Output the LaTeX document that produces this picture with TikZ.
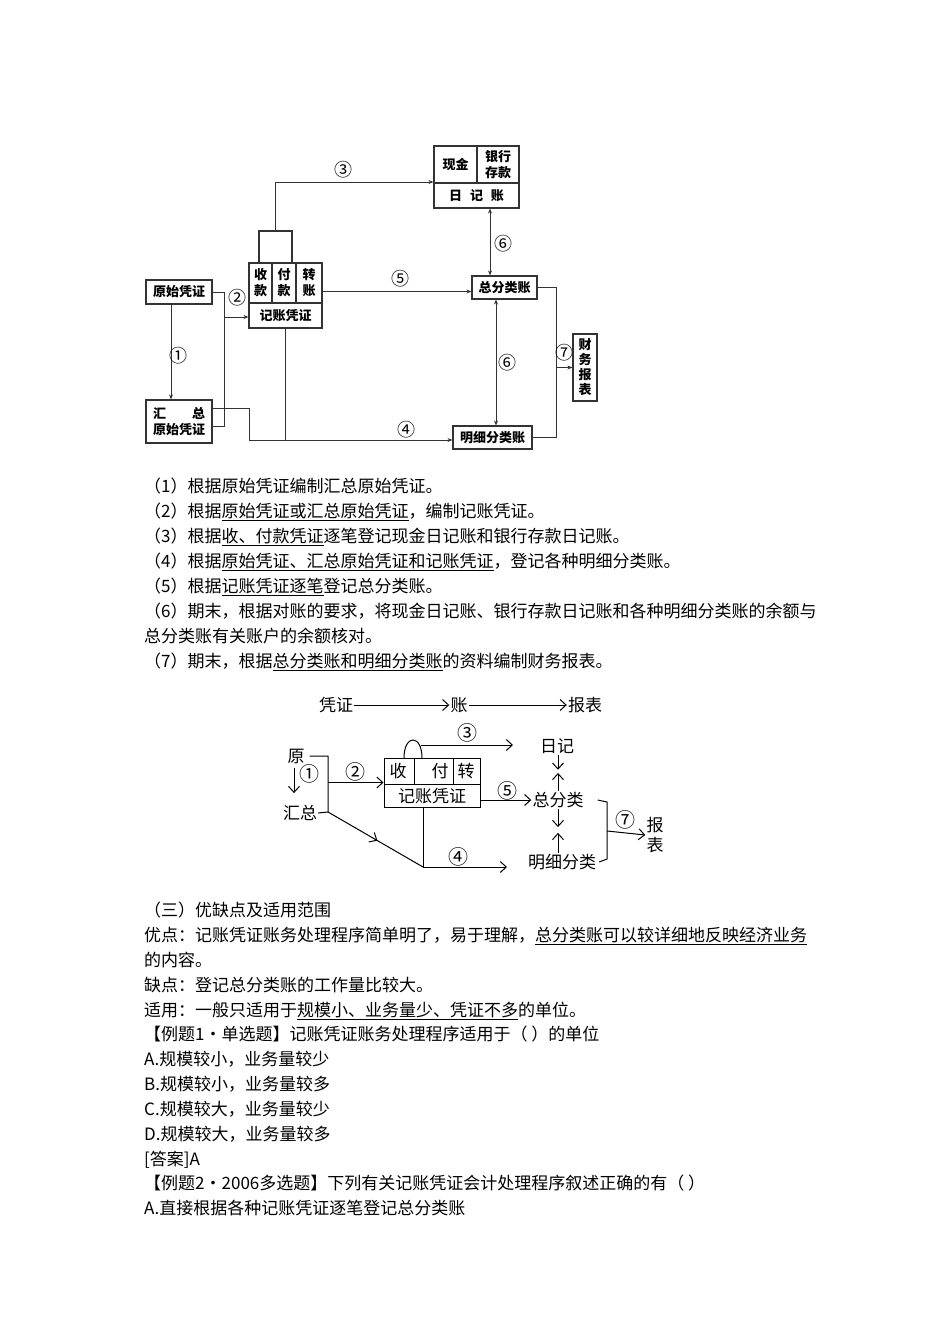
\documentclass[tikz,border=0pt]{standalone}
\usepackage{fontspec}
\setmainfont{Noto Sans CJK SC}
\usetikzlibrary{arrows.meta,decorations.markings,calc}
\definecolor{linec}{HTML}{333333}
\newcommand{\myul}[1]{\underline{#1}}
\begin{document}
\begin{tikzpicture}[x=1pt,y=-1pt,
  bx/.style={draw=linec, line width=1.1pt, inner sep=0pt, align=center, font=\fontsize{13}{16}\selectfont\bfseries},
  lbl/.style={inner sep=0pt, align=center, font=\fontsize{13}{16}\selectfont\bfseries},
  ln/.style={draw=linec, line width=0.9pt},
  arr/.style={ln, -{Stealth[length=5pt,width=4pt]}},
  darr/.style={ln, {Stealth[length=5pt,width=4pt]}-{Stealth[length=5pt,width=4pt]}},
  num/.style={inner sep=0pt, font=\fontsize{18}{18}\selectfont},
  body/.style={anchor=base west, inner sep=0pt, font=\fontsize{17}{20}\selectfont},
  dtwo/.style={inner sep=1pt, align=center, font=\fontsize{17}{20}\selectfont},
  numtwo/.style={inner sep=0pt, font=\fontsize{20}{20}\selectfont},
  lntwo/.style={draw=black, line width=1pt},
  oarr/.style={lntwo, -{Straight Barb[length=6pt,width=11pt]}}
]
\fill[white] (0,0) rectangle (950,1344);
\useasboundingbox (0,0) rectangle (950,1344);

% ---------- diagram 1 ----------
\node[bx, minimum width=66pt, minimum height=24pt] (ys) at (179,292) {原始凭证};
\node[bx, minimum width=66pt, minimum height=43pt] (hz) at (179,421.5) {汇\hspace{2em}总\\原始凭证};
\node[bx, minimum width=73pt, minimum height=65pt] (jz) at (285.5,295.5) {};
\draw[ln, line width=1.1pt] (249,303) -- (322,303);
\draw[ln, line width=1.1pt] (272,263) -- (272,303);
\draw[ln, line width=1.1pt] (296,263) -- (296,303);
\node[lbl] (sk) at (260.5,283) {收\\款};
\node[lbl] (fk) at (284,283) {付\\款};
\node[lbl] (zz) at (309,283) {转\\账};
\node[lbl] (jzpz) at (285.5,315.5) {记账凭证};
\node[bx, minimum width=33pt, minimum height=32pt] (cap) at (275.5,247) {};
\node[bx, minimum width=85pt, minimum height=62pt] (rj) at (476.5,177) {};
\draw[ln, line width=1.1pt] (477,146) -- (477,183);
\draw[ln, line width=1.1pt] (434,183) -- (519,183);
\node[lbl] (xj) at (455.5,164.5) {现金};
\node[lbl] (yh) at (498,164.5) {银行\\存款};
\node[lbl] (rjz) at (476.5,195.5) {日\hspace{0.6em}记\hspace{0.6em}账};
\node[bx, minimum width=65pt, minimum height=23pt] (zfl) at (504.5,287.5) {总分类账};
\node[bx, minimum width=79pt, minimum height=23pt] (mx) at (492.5,437.5) {明细分类账};
\node[bx, minimum width=24pt, minimum height=67pt, font=\fontsize{13}{15}\selectfont\bfseries] (cw) at (585,367.5) {财\\务\\报\\表};

\draw[arr] (cap.north) |- ([yshift=-5pt]rj.west);
\coordinate (p5) at ([yshift=4pt]jz.east);
\draw[arr] (p5) -- (p5 -| zfl.west);
\coordinate (p6a) at ([xshift=13.5pt]rj.south);
\draw[darr] (p6a) -- (p6a |- zfl.north);
\coordinate (p6b) at ([xshift=-8.5pt]zfl.south);
\draw[darr] (p6b) -- (p6b |- mx.north);
\coordinate (p1) at ([xshift=-8pt]ys.south);
\draw[arr] (p1) -- (p1 |- hz.north);
\coordinate (p2) at ([yshift=-4.5pt]hz.east);
\draw[ln] (ys.east) -- ++(12,0) |- (p2);
\coordinate (p2a) at (224,317);
\draw[arr] (p2a) -- (p2a -| jz.west);
\coordinate (p4) at ([yshift=13.5pt]hz.east);
\coordinate (m4) at ([yshift=-2.5pt]mx.west);
\draw[arr] (p4) -- ++(37,0) |- (m4);
\draw[ln] (jz.south) -- (jz.south |- m4);
\draw[ln] (zfl.east) -- ++(18.5,0) |- (mx.east);
\coordinate (p7) at (556,367.5);
\draw[arr] (p7) -- (cw.west);

\node[num] (n3) at (343,170) {③};
\node[num] (n2) at (237,298) {②};
\node[num] (n1) at (178,356) {①};
\node[num] (n5) at (400,279) {⑤};
\node[num] (n6a) at (503,244) {⑥};
\node[num] (n6b) at (507,363) {⑥};
\node[num] (n4) at (406,430) {④};
\node[num] (n7) at (564,353) {⑦};

% ---------- text block 1 ----------
\node[body] (t1) at (144,492.5) {（1）根据原始凭证编制汇总原始凭证。};
\node[body] (t2) at (144,517.5) {（2）根据\myul{原始凭证或汇总原始凭证}，编制记账凭证。};
\node[body] (t3) at (144,542.5) {（3）根据\myul{收、付款凭证}逐笔登记现金日记账和银行存款日记账。};
\node[body] (t4) at (144,567.5) {（4）根据\myul{原始凭证、汇总原始凭证和记账凭证}，登记各种明细分类账。};
\node[body] (t5) at (144,592.5) {（5）根据\myul{记账凭证逐笔}登记总分类账。};
\node[body] (t6) at (144,617.5) {（6）期末，根据对账的要求，将现金日记账、银行存款日记账和各种明细分类账的余额与};
\node[body] (t6b) at (144,642.5) {总分类账有关账户的余额核对。};
\node[body] (t7) at (144,667.5) {（7）期末，根据\myul{总分类账和明细分类账}的资料编制财务报表。};

% ---------- diagram 2 ----------
\node[dtwo] (pz) at (336,705) {凭证};
\node[dtwo] (zh) at (459,705) {账};
\node[dtwo] (bb) at (585,705) {报表};
\draw[oarr] (pz) -- (zh);
\draw[oarr] (zh) -- (bb);

\node[dtwo] (yuan) at (296,756) {原};
\node[dtwo] (hz2) at (300,813) {汇总};
\coordinate (b1) at (328,756);
\coordinate (b2) at (328,812);
\draw[lntwo] ([xshift=4pt]yuan.east) -- (b1) -- (b2) -- (hz2.east);
\draw[oarr] ([shift={(-2,3)}]yuan.south) -- ([shift={(-6,-11)}]hz2.north);

\node[draw=black, line width=1pt, minimum width=96pt, minimum height=49pt, inner sep=0pt] (jz2) at (432,782.5) {};
\draw[lntwo] (384,784) -- (480,784);
\draw[lntwo] (414,758) -- (414,784);
\draw[lntwo] (453,758) -- (453,784);
\node[dtwo] (s2) at (398,771) {收};
\node[dtwo] (f2) at (440,771) {付};
\node[dtwo] (z2) at (466,771) {转};
\node[dtwo] (jzpz2) at (432,796) {记账凭证};

\draw[oarr] (jz2.west -| b1) -- (jz2.west);
\draw[lntwo] (404,758) .. controls (404,734) and (422,734) .. (422,758);
\coordinate (a3) at (421,745);
\coordinate (e3) at (513,745);
\draw[oarr] (a3) -- (e3);

\coordinate (c4) at (423,867);
\coordinate (e4) at (507,867);
\draw[lntwo, postaction={decorate}, decoration={markings, mark=at position 0.52 with {\arrow{Straight Barb[length=6pt,width=11pt]}}}] (b2) -- (c4);
\draw[lntwo] (c4 |- jz2.south) -- (c4);
\draw[oarr] (c4) -- (e4);

\node[dtwo] (rj2) at (557,746) {日记};
\node[dtwo] (zfl2) at (558,800) {总分类};
\node[dtwo] (mx2) at (562,862) {明细分类};
\draw[oarr] (zfl2.west -| jz2.east) -- (zfl2.west);
\draw[oarr] ([xshift=1pt]rj2.south) -- ++(0,15);
\draw[oarr] (zfl2.north) -- ++(0,-18);
\draw[oarr] (zfl2.south) -- ++(0,18);
\draw[oarr] ([xshift=-4pt]mx2.north) -- ++(0,-20);
\coordinate (k1) at (607,802);
\coordinate (k2) at (607,859);
\coordinate (k7) at (607,831);
\node[dtwo, font=\fontsize{17}{20}\selectfont] (bb2) at (655,835) {报\\表};
\draw[lntwo] ([xshift=13pt]zfl2.east) -- (k1) -- (k2) -- ([xshift=2pt]mx2.east);
\draw[oarr] (k7) -- (bb2.west);

\node[numtwo] (m2) at (355,772) {②};
\node[numtwo] (m1) at (309,774) {①};
\node[numtwo] (m3) at (467,733) {③};
\node[numtwo] (m4) at (458,857) {④};
\node[numtwo] (m5) at (507,791) {⑤};
\node[numtwo] (m7) at (625,820) {⑦};

% ---------- text block 2 ----------
\node[body] (u1) at (144,916.5) {（三）优缺点及适用范围};
\node[body] (u2) at (144,941.5) {优点：记账凭证账务处理程序简单明了，易于理解，\myul{总分类账可以较详细地反映经济业务}};
\node[body] (u3) at (144,966.5) {的内容。};
\node[body] (u4) at (144,991.5) {缺点：登记总分类账的工作量比较大。};
\node[body] (u5) at (144,1016.5) {适用：一般只适用于\myul{规模小、业务量少、凭证不多}的单位。};
\node[body] (u6) at (144,1040.5) {【例题1·单选题】记账凭证账务处理程序适用于（ ）的单位};
\node[body] (u7) at (144,1065.5) {A.规模较小，业务量较少};
\node[body] (u8) at (144,1090.5) {B.规模较小，业务量较多};
\node[body] (u9) at (144,1115.5) {C.规模较大，业务量较少};
\node[body] (u10) at (144,1140.5) {D.规模较大，业务量较多};
\node[body] (u11) at (144,1165.5) {[答案]A};
\node[body] (u12) at (144,1189.5) {【例题2·2006多选题】下列有关记账凭证会计处理程序叙述正确的有（ ）};
\node[body] (u13) at (144,1214.5) {A.直接根据各种记账凭证逐笔登记总分类账};
\end{tikzpicture}
\end{document}
